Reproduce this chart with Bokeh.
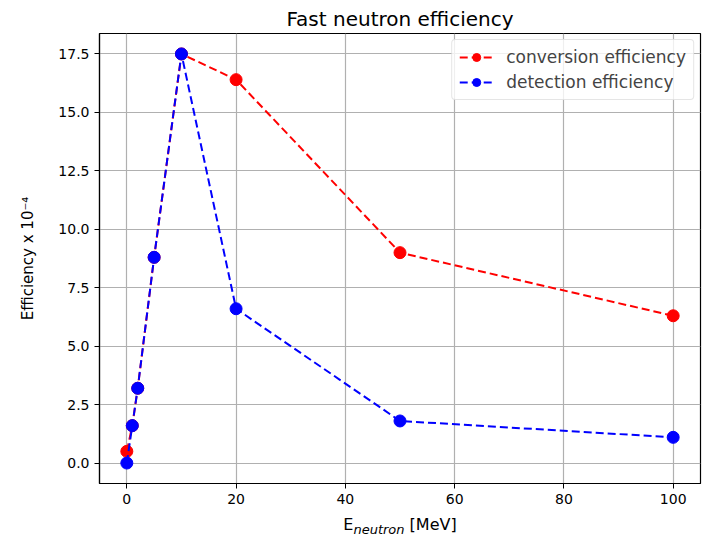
from bokeh.plotting import figure
from bokeh.models import (Range1d, FixedTicker, NumeralTickFormatter, Legend,
                          LegendItem, Div)
from bokeh.layouts import column
from bokeh.embed import file_html
from bokeh.resources import INLINE

energy = [0, 1, 2, 5, 10, 20, 50, 100]
conversion = [0.5, 1.6, 3.2, 8.8, 17.5, 16.4, 9.0, 6.3]
detection = [0.0, 1.6, 3.2, 8.8, 17.5, 6.6, 1.8, 1.1]
x_ticks = [0, 20, 40, 60, 80, 100]
y_ticks = [0, 2.5, 5, 7.5, 10, 12.5, 15, 17.5]

FONT = "DejaVu Sans"

p = figure(width=703, height=506, output_backend="svg", toolbar_location=None,
           x_range=Range1d(-5, 105), y_range=Range1d(-0.875, 18.375),
           min_border_left=99, min_border_right=3, min_border_top=33,
           min_border_bottom=22, title="Fast neutron efficiency")

p.title.text_font = FONT
p.title.text_font_size = "20px"
p.title.text_font_style = "normal"
p.title.align = "center"
p.title.text_color = "black"
p.title.standoff = 6

p.outline_line_color = "black"
p.outline_line_width = 1.2

for ax in (p.xaxis[0], p.yaxis[0]):
    ax.axis_line_color = "black"
    ax.axis_line_width = 1.2
    ax.major_tick_line_color = "black"
    ax.major_tick_out = 5
    ax.major_tick_in = 0
    ax.minor_tick_line_color = None
    ax.major_label_text_font = FONT
    ax.major_label_text_font_size = "14px"
    ax.major_label_text_color = "black"
    ax.axis_label_text_font = FONT
    ax.axis_label_text_font_size = "15px"
    ax.axis_label_text_font_style = "normal"
    ax.axis_label_text_color = "black"

p.xaxis.ticker = FixedTicker(ticks=x_ticks)
p.yaxis.ticker = FixedTicker(ticks=y_ticks)
p.yaxis.formatter = NumeralTickFormatter(format="0.0")
p.yaxis.axis_label = "Efficiency x 10\u207b\u2074"
p.yaxis.axis_label_standoff = 18

p.xgrid.grid_line_color = "#b0b0b0"
p.ygrid.grid_line_color = "#b0b0b0"
p.xgrid.grid_line_width = 1.2
p.ygrid.grid_line_width = 1.2

r1 = p.line(energy, conversion, color="#ff0000", line_width=2, line_dash="8 4")
s1 = p.scatter(energy, conversion, color="#ff0000", size=12)
r2 = p.line(energy, detection, color="#0000ff", line_width=2, line_dash="8 4")
s2 = p.scatter(energy, detection, color="#0000ff", size=12)

legend = Legend(items=[LegendItem(label="conversion efficiency", renderers=[r1, s1]),
                       LegendItem(label="detection efficiency", renderers=[r2, s2])],
                location="top_right")
legend.label_text_font = FONT
legend.label_text_font_size = "17px"
legend.border_line_color = "#cccccc"
legend.border_radius = 4
legend.background_fill_alpha = 0.8
legend.glyph_width = 34
legend.label_standoff = 13
legend.spacing = 5
legend.padding = 7
legend.margin = 6
p.add_layout(legend)

xlabel = Div(
    text='E<sub style="font-style:italic;font-size:13px;">neutron</sub> [MeV]',
    width=602, height=35, margin=(0, 0, 0, 99),
    styles={"font-family": "DejaVu Sans", "font-size": "16px", "color": "black",
            "text-align": "center", "padding-top": "8px", "width": "602px"})

layout = column(p, xlabel, spacing=0)

open("out.html", "w").write(file_html(layout, INLINE))
